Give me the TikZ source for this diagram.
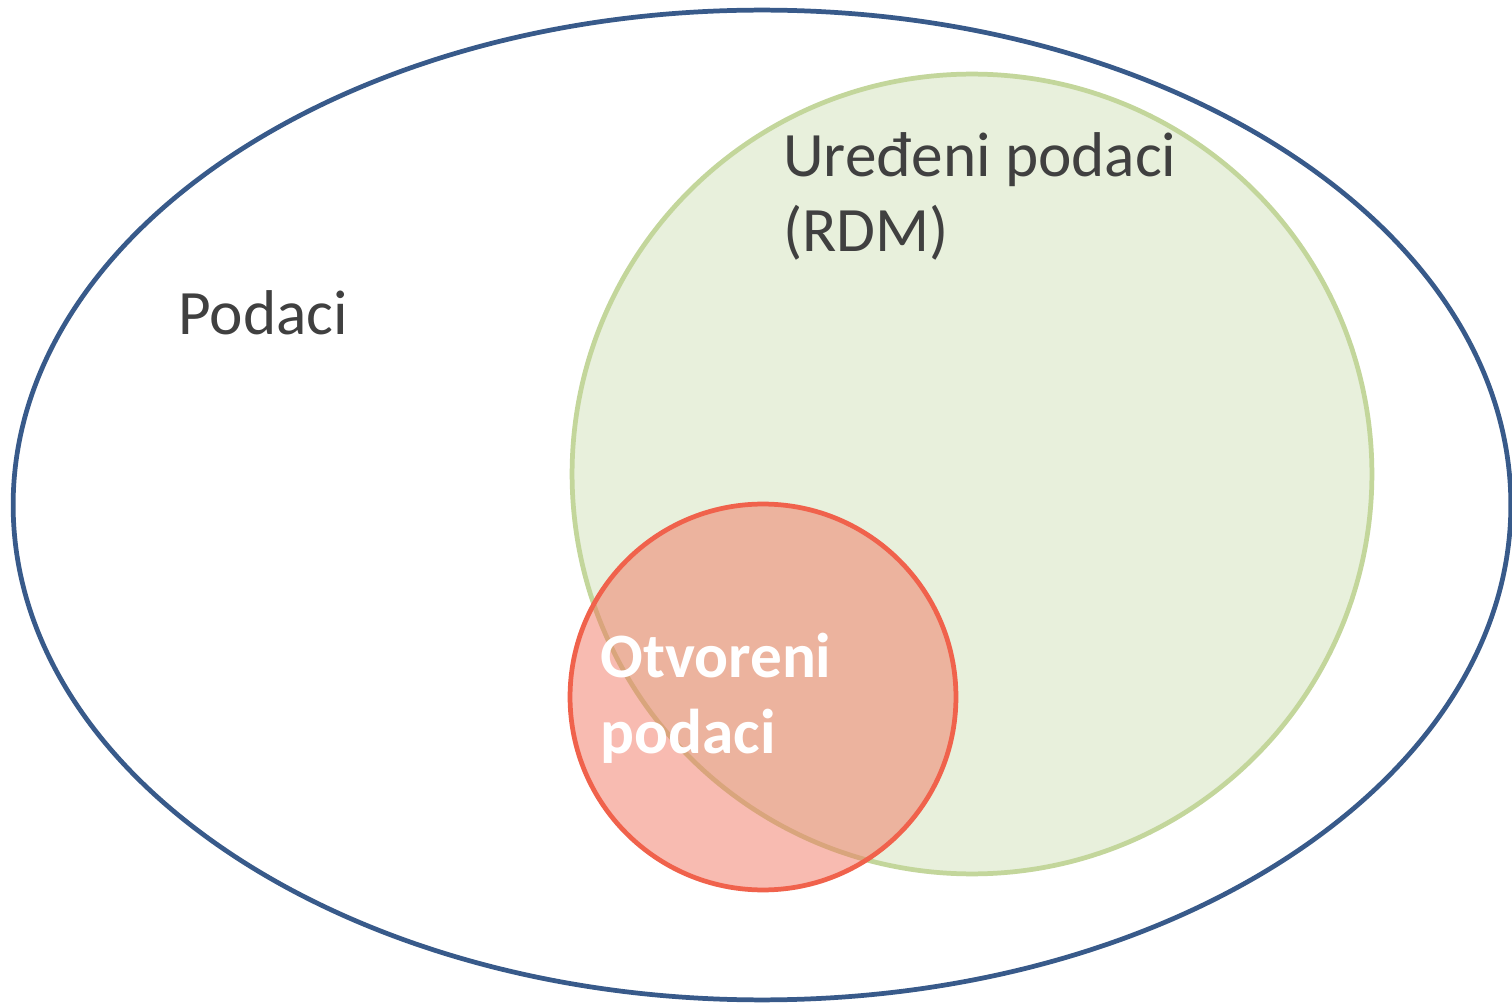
\documentclass[tikz,border=0pt]{standalone}
\usepackage{fontspec}
\setmainfont{Carlito}
\definecolor{outerblue}{RGB}{56,90,138}
\definecolor{greenfill}{RGB}{232,240,220}
\definecolor{greenline}{RGB}{195,214,155}
\definecolor{redfill}{RGB}{242,113,92}
\definecolor{redline}{RGB}{240,98,76}
\definecolor{textgray}{RGB}{64,64,64}
\begin{document}
\begin{tikzpicture}[x=0.02cm,y=-0.02cm,
  lbl/.style={anchor=base west,inner sep=0pt,text=textgray,align=left,
    font=\fontsize{36}{42.7}\selectfont},
  lblw/.style={anchor=base west,inner sep=0pt,text=white,align=left,
    font=\fontsize{36}{42.7}\selectfont\bfseries}]
\useasboundingbox (0,0) rectangle (1512,1003);
\coordinate (oc) at (762,505);
\coordinate (gc) at (972,474);
\coordinate (rc) at (763,697);
\fill[white] (oc) ellipse [x radius=14.98cm, y radius=9.9cm];
\draw[outerblue,line width=2.7pt] (oc) ellipse [x radius=14.98cm, y radius=9.9cm];
\draw[greenline,fill=greenfill,line width=2.7pt] (gc) circle [radius=8cm];
\fill[redfill,fill opacity=0.48] (rc) circle [radius=3.86cm];
\draw[redline,line width=2.7pt] (rc) circle [radius=3.86cm];
\node[lbl] (podaci) at (178,335) {Podaci};
\node[lbl] (uredjeni) at (783,252) {Uređeni podaci\\(RDM)};
\node[lblw] (otvoreni) at (600,753) {Otvoreni\\podaci};
\end{tikzpicture}
\end{document}
